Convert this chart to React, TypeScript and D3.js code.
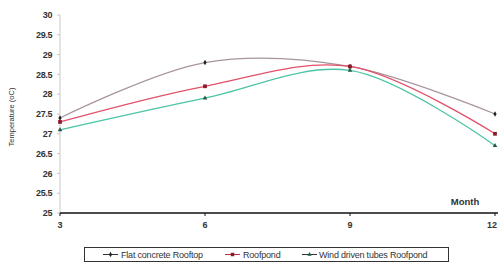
import React from "react";
import * as d3 from "d3";

const months = [3, 6, 9, 12];
const yTicks = [25, 25.5, 26, 26.5, 27, 27.5, 28, 28.5, 29, 29.5, 30];

const flatRoof = [27.4, 28.8, 28.7, 27.5];
const roofpond = [27.3, 28.2, 28.7, 27.0];
const windTubes = [27.1, 27.9, 28.6, 26.7];

const seriesNames = ["Flat concrete Rooftop", "Roofpond", "Wind driven tubes Roofpond"];
const lineColors = ["#a8959c", "#e2506a", "#4cc4a6"];
const markerColors = ["#222222", "#8a1a2a", "#1f5a45"];
const markerShapes = [d3.symbolDiamond, d3.symbolSquare, d3.symbolTriangle];

export default function App() {
  const W = 498;
  const H = 266;
  const left = 60;
  const right = 495;
  const top = 15;
  const bottom = 213;

  const x = d3.scaleLinear().domain([3, 12]).range([left, right]);
  const y = d3.scaleLinear().domain([25, 30]).range([bottom, top]);

  const allSeries = [flatRoof, roofpond, windTubes];
  const line = d3
    .line<number>()
    .x((_, i) => x(months[i]))
    .y((d) => y(d))
    .curve(d3.curveCatmullRom.alpha(0.5));

  const font = "Arial, 'Liberation Sans', sans-serif";

  // legend layout
  const legendItems = [
    { lx: 103, tx: 121 },
    { lx: 225, tx: 243 },
    { lx: 302, tx: 319 },
  ];

  return (
    <svg
      width={W}
      height={H}
      style={{ position: "absolute", left: 0, top: 0, background: "#fff" }}
      fontFamily={font}
    >
      {/* axes */}
      <line x1={left} x2={left} y1={top} y2={bottom} stroke="#c8c8c8" strokeWidth={1} />
      <line x1={left} x2={W} y1={bottom} y2={bottom} stroke="#111" strokeWidth={1.5} />
      {yTicks.map((t) => (
        <g key={t}>
          <line x1={left - 3} x2={left} y1={y(t)} y2={y(t)} stroke="#c8c8c8" />
          <text
            x={left - 8}
            y={y(t)}
            dy="0.35em"
            textAnchor="end"
            fontSize={9}
            fontWeight="bold"
            fill="#333"
            letterSpacing={-0.4}
          >
            {t}
          </text>
        </g>
      ))}
      {months.map((m, i) => {
        const last = i === months.length - 1;
        return (
          <g key={m}>
            <line x1={x(m)} x2={x(m)} y1={bottom} y2={bottom + 3} stroke="#111" />
            <text
              x={last ? W - 1 : x(m)}
              y={bottom + 15}
              textAnchor={last ? "end" : "middle"}
              fontSize={9}
              fontWeight="bold"
              fill="#333"
            >
              {m}
            </text>
          </g>
        );
      })}
      <text x={465} y={205} textAnchor="middle" fontSize={9.5} fontWeight="bold" fill="#333">
        Month
      </text>
      <text
        transform={`translate(14,${(top + bottom) / 2 + 3}) rotate(-90)`}
        textAnchor="middle"
        fontSize={7.5}
        fill="#333"
      >
        Temperature (oC)
      </text>

      {/* series */}
      {allSeries.map((s, i) => (
        <g key={i}>
          <path d={line(s) as string} fill="none" stroke={lineColors[i]} strokeWidth={1.3} />
          {s.map((v, j) => (
            <path
              key={j}
              transform={`translate(${x(months[j])},${y(v)})`}
              d={d3.symbol().type(markerShapes[i]).size(i === 1 ? 14 : 9)() as string}
              fill={markerColors[i]}
            />
          ))}
        </g>
      ))}

      {/* legend */}
      <rect x={84.5} y={247.5} width={364} height={14} fill="#fff" stroke="#333" strokeWidth={1} />
      {seriesNames.map((n, i) => (
        <g key={n}>
          <line
            x1={legendItems[i].lx}
            x2={legendItems[i].lx + 15}
            y1={254.5}
            y2={254.5}
            stroke={i === 1 ? "#c0304a" : "#333"}
          />
          <path
            transform={`translate(${legendItems[i].lx + 7.5},254.5)`}
            d={d3.symbol().type(markerShapes[i]).size(i === 1 ? 12 : 8)() as string}
            fill={markerColors[i]}
          />
          <text x={legendItems[i].tx} y={254.5} dy="0.35em" fontSize={9} fill="#333" letterSpacing={-0.2}>
            {n}
          </text>
        </g>
      ))}
    </svg>
  );
}
